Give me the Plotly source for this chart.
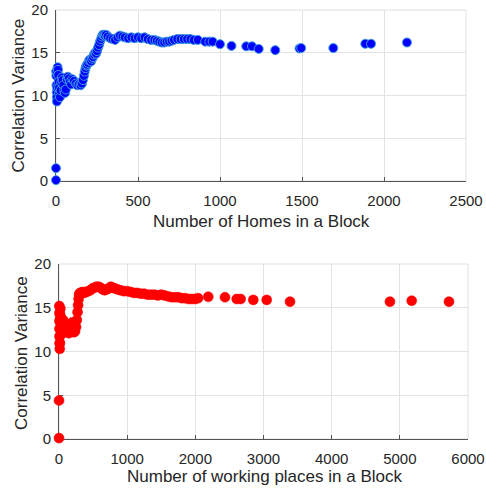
import plotly.graph_objects as go

# ---- data: homes per block (top) ----
homes_x = [0, 0, 1, 2, 3, 4, 5, 6, 7, 8,
           10, 12, 14, 16, 18, 20, 24, 28, 32, 36,
           40, 45, 50, 55, 60, 66, 72, 78, 85, 92,
           100, 110, 120, 130, 140, 150, 158, 164, 170, 175,
           180, 185, 190, 196, 202, 208, 214, 220, 226, 232,
           238, 244, 250, 256, 262, 268, 274, 280, 286, 292,
           298, 305, 315, 330, 345, 360, 375, 390, 405, 420,
           440, 460, 480, 500, 520, 540, 560, 580, 600, 615,
           630, 645, 660, 675, 690, 705, 720, 740, 760, 780,
           800, 820, 840, 865, 910, 935, 955, 1000, 1070, 1160,
           1195, 1236, 1337, 1485, 1495, 1691, 1886, 1921, 2140]
homes_y = [0.1, 1.5, 12.8, 12.3, 11.2, 10.4, 9.8, 9.3, 10.9, 12.6,
           13.3, 13.0, 12.4, 11.6, 10.9, 10.2, 9.8, 10.6, 11.5, 12.1,
           11.8, 11.2, 10.6, 10.3, 10.7, 11.9, 12.2, 12.0, 11.6, 11.3,
           11.9, 11.7, 11.4, 11.2, 11.3, 11.2, 11.4, 11.8, 12.3, 12.8,
           13.2, 13.5, 13.6, 13.8, 14.1, 14.2, 14.0, 14.3, 14.5, 14.8,
           15.0, 14.9, 15.2, 15.6, 15.9, 16.3, 16.6, 16.9, 17.1, 17.1,
           17.0, 17.1, 16.9, 16.7, 16.6, 16.5, 16.8, 17.0, 16.9, 16.8,
           16.7, 16.8, 16.7, 16.8, 16.7, 16.8, 16.6, 16.5, 16.5, 16.4,
           16.3, 16.2, 16.2, 16.3, 16.3, 16.4, 16.5, 16.6, 16.6, 16.6,
           16.6, 16.6, 16.5, 16.5, 16.3, 16.3, 16.3, 16.0, 15.8, 15.75,
           15.75, 15.45, 15.3, 15.5, 15.55, 15.55, 16.05, 16.05, 16.2]

# ---- data: working places per block (bottom) ----
work_x = [0, 0, 5, 6, 7, 8, 9, 10, 11, 12,
          13, 14, 15, 17, 20, 25, 30, 40, 50, 60,
          70, 80, 90, 100, 115, 130, 145, 160, 175, 190,
          205, 220, 235, 250, 262, 272, 280, 288, 295, 302,
          310, 325, 345, 370, 400, 430, 460, 490, 520, 550,
          580, 610, 640, 670, 700, 730, 760, 790, 820, 860,
          900, 950, 1000, 1050, 1100, 1150, 1200, 1250, 1300, 1350,
          1400, 1450, 1500, 1550, 1600, 1650, 1700, 1750, 1800, 1850,
          1900, 1950, 2000, 2040, 2190, 2435, 2607, 2665, 2850, 3047,
          3389, 4855, 5174, 5721]
work_y = [0.1, 4.4, 15.2, 14.4, 13.5, 12.6, 11.7, 10.9, 10.3, 11.0,
          11.8, 12.6, 13.4, 14.2, 14.9, 13.9, 13.0, 12.6, 13.4, 13.6,
          13.2, 12.8, 12.4, 12.2, 12.5, 12.3, 12.1, 12.4, 12.9, 13.3,
          12.6, 12.2, 12.3, 12.8, 13.6, 14.5, 15.3, 16.0, 16.5, 16.6,
          16.7, 16.7, 16.8, 16.7, 16.8, 16.9, 17.0, 17.2, 17.3, 17.4,
          17.4, 17.3, 17.1, 17.0, 17.1, 17.2, 17.4, 17.3, 17.2, 17.1,
          17.0, 16.9, 16.9, 16.8, 16.7, 16.7, 16.6, 16.6, 16.5, 16.5,
          16.5, 16.4, 16.5, 16.4, 16.3, 16.2, 16.2, 16.2, 16.1, 16.1,
          16.0, 16.0, 16.0, 16.1, 16.25, 16.2, 16.0, 16.0, 15.9, 15.9,
          15.7, 15.7, 15.8, 15.7]

y_ticks = [0, 5, 10, 15, 20]
top_x_ticks = [0, 500, 1000, 1500, 2000, 2500]
bot_x_ticks = [0, 1000, 2000, 3000, 4000, 5000, 6000]

W, H = 486, 490
FONT = "Liberation Sans, Arial, Helvetica, sans-serif"
TXT = "#262626"

fig = go.Figure()
fig.add_trace(go.Scatter(
    x=homes_x, y=homes_y, mode="markers", cliponaxis=False,
    marker=dict(size=9, color="#0000ff", line=dict(color="#3d9be0", width=1)),
    xaxis="x", yaxis="y", showlegend=False))
fig.add_trace(go.Scatter(
    x=work_x, y=work_y, mode="markers", cliponaxis=False,
    marker=dict(size=10, color="#ff0000", line=dict(color="#ff0000", width=0.5)),
    xaxis="x2", yaxis="y2", showlegend=False))

def px_dom(a, b, total):
    return [a / total, b / total]

top_xd = px_dom(56, 466, W)
bot_xd = px_dom(59, 468, W)
top_yd = [1 - 181 / H, 1 - 10 / H]
bot_yd = [1 - 439 / H, 1 - 264 / H]

axis_common = dict(
    showgrid=True, gridcolor="#e3e3e3", gridwidth=1,
    showline=True, linecolor="#555555", linewidth=1,
    ticks="inside", ticklen=4, tickcolor="#555555", tickwidth=1,
    tickfont=dict(family=FONT, size=15, color=TXT),
    zeroline=False, layer="below traces", automargin=False,
)

fig.update_layout(
    width=W, height=H,
    margin=dict(l=0, r=0, t=0, b=0, autoexpand=False),
    paper_bgcolor="white", plot_bgcolor="white",
    font=dict(family=FONT, color=TXT),
    xaxis=dict(domain=top_xd, range=[0, 2500], tickvals=top_x_ticks,
               anchor="y", ticklabelstandoff=6, **axis_common),
    yaxis=dict(domain=top_yd, range=[0, 20], tickvals=y_ticks,
               anchor="x", ticklabelstandoff=4, **axis_common),
    xaxis2=dict(domain=bot_xd, range=[0, 6000], tickvals=bot_x_ticks,
                anchor="y2", ticklabelstandoff=6, **axis_common),
    yaxis2=dict(domain=bot_yd, range=[0, 20], tickvals=y_ticks,
                anchor="x2", ticklabelstandoff=4, **axis_common),
)

# light box (top/right edges) like MATLAB
for xr, yr in (("x domain", "y domain"), ("x2 domain", "y2 domain")):
    fig.add_shape(type="rect", xref=xr, yref=yr, x0=0, x1=1, y0=0, y1=1,
                  line=dict(color="#e0e0e0", width=1), layer="below")

titles = [
    ("Number of Homes in a Block", 261 / W, 1 - 221 / H, 0),
    ("Number of working places in a Block", 264 / W, 1 - 476.7 / H, 0),
    ("Correlation Variance", 18 / W, 1 - 95.5 / H, -90),
    ("Correlation Variance", 21.7 / W, 1 - 353.3 / H, -90),
]
for text, x, y, ang in titles:
    fig.add_annotation(text=text, x=x, y=y, xref="paper", yref="paper",
                       xanchor="center", yanchor="middle", showarrow=False,
                       textangle=ang, font=dict(family=FONT, size=17, color=TXT))

fig.write_html(
    "out.html",
    config={"displayModeBar": False},
    post_script="document.body.style.margin='0';document.body.style.overflow='hidden';",
)
